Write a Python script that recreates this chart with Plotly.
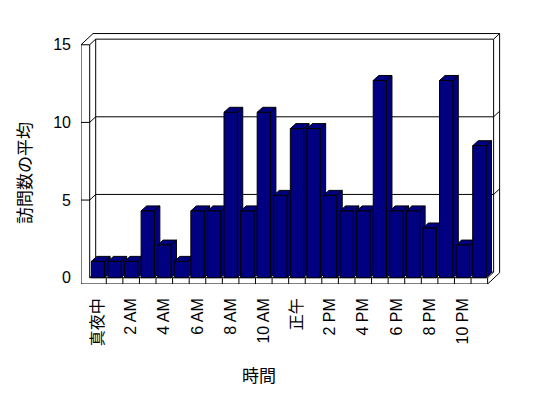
import plotly.graph_objects as go

# ---------------- data ----------------
hours = list(range(24))
values = [1.05, 1.05, 1.05, 4.3, 2.1, 1.05, 4.3, 4.3, 10.65, 4.3, 10.65, 5.3,
          9.6, 9.6, 5.3, 4.3, 4.3, 12.7, 4.3, 4.3, 3.2, 12.7, 2.1, 8.5]
tick_hours = [0, 2, 4, 6, 8, 10, 12, 14, 16, 18, 20, 22]
tick_labels = ["真夜中", "2 AM", "4 AM", "6 AM", "8 AM", "10 AM", "正午",
               "2 PM", "4 PM", "6 PM", "8 PM", "10 PM"]
y_ticks = [0, 5, 10, 15]
grid_values = [5, 10]
x_title = "時間"
y_title = "訪問数の平均"

# ---------------- geometry / style ----------------
W, H = 548, 398
L, R, T, B = 81, 47, 33, 114
PW, PH = W - L - R, H - T - B
SX = 16.58      # px per category
SY = 15.53      # px per unit
X0PX = 89.7     # pixel of x=-0.5
Y0PX = 277.7    # pixel of y=0
xlo = -0.5 - (X0PX - L) / SX
xhi = xlo + PW / SX
ylo = -((T + PH) - Y0PX) / SY
yhi = ylo + PH / SY

def ddx(px):
    return px / SX

def ddy(px):
    return px / SY

DX, DY = ddx(6), ddy(5.6)       # frame depth
BDX, BDY = ddx(5.5), ddy(5)     # bar depth
BAR_W = 0.8
NAVY = "#000080"
XR = len(hours) - 0.5
TOP = y_ticks[-1]

shapes = []

def line(x0, y0, x1, y1):
    shapes.append(dict(type="line", xref="x", yref="y", x0=x0, y0=y0, x1=x1, y1=y1,
                       line=dict(color="black", width=1), layer="below"))

# left wall
line(xlo, ylo, xlo, TOP)
line(-0.5, 0, -0.5, TOP)
line(xlo, TOP, -0.5, TOP)
line(xlo, TOP, xlo + 2 * DX, TOP + 2 * DY)
line(-0.5, TOP, -0.5 + DX, TOP + DY)
# back wall
line(xlo + 2 * DX, TOP + 2 * DY, XR + 2 * DX, TOP + 2 * DY)
line(-0.5 + DX, TOP + DY, XR + DX, TOP + DY)
line(-0.5 + DX, DY, -0.5 + DX, TOP + DY)
line(XR + DX, DY, XR + DX, TOP + DY)
line(XR + 2 * DX, ylo + 2 * DY, XR + 2 * DX, TOP + 2 * DY)
line(XR + DX, TOP + DY, XR + 2 * DX, TOP + 2 * DY)
# floor
line(-0.5, 0, XR, 0)
line(xlo, ylo, XR, ylo)
line(XR, ylo, XR, 0)
line(XR, ylo, XR + 2 * DX, ylo + 2 * DY)
line(XR, 0, XR + DX, DY)
line(-0.5, 0, -0.5 + DX, DY)
line(-0.5 + DX, DY, XR + DX, DY)
for h in hours[:-1]:
    line(h + 0.5, ylo, h + 0.5, 0)
# gridlines
for v in grid_values:
    line(xlo, v, -0.5, v)
    line(-0.5, v, -0.5 + DX, v + DY)
    line(-0.5 + DX, v + DY, XR + DX, v + DY)
    line(XR + DX, v + DY, XR + 2 * DX, v + 2 * DY)

# 3D bar top and side faces
for h, v in zip(hours, values):
    x0, x1 = h - BAR_W / 2, h + BAR_W / 2
    top = f"M {x0},{v} L {x0 + BDX},{v + BDY} L {x1 + BDX},{v + BDY} L {x1},{v} Z"
    side = f"M {x1},0 L {x1},{v} L {x1 + BDX},{v + BDY} L {x1 + BDX},{BDY} Z"
    for p in (side, top):
        shapes.append(dict(type="path", xref="x", yref="y", path=p, fillcolor=NAVY,
                           line=dict(color="black", width=1), layer="below"))

fig = go.Figure()
fig.add_trace(go.Bar(x=hours, y=values, width=BAR_W, base=0,
                     marker=dict(color=NAVY, line=dict(color="black", width=1)),
                     hoverinfo="skip"))

FONT = "Liberation Sans, Arial, Noto Sans CJK JP"

def paper_x(px):
    return (px - L) / PW

def paper_y(py):
    return 1 - (py - T) / PH

fig.update_layout(
    width=W, height=H,
    margin=dict(l=L, r=R, t=T, b=B, pad=0),
    paper_bgcolor="white", plot_bgcolor="white",
    showlegend=False,
    shapes=shapes,
    font=dict(family=FONT, color="black", size=15),
    xaxis=dict(range=[xlo, xhi], tickmode="array", tickvals=tick_hours, ticktext=tick_labels,
               tickangle=-90, showgrid=False, zeroline=False, showline=False, ticks="",
               ticklabelstandoff=10, tickfont=dict(size=16, family=FONT), fixedrange=True),
    yaxis=dict(range=[ylo, yhi], tickmode="array", tickvals=y_ticks,
               showgrid=False, zeroline=False, showline=False, ticks="",
               ticklabelstandoff=9, tickfont=dict(size=16, family=FONT), fixedrange=True),
    annotations=[
        dict(text=x_title, xref="paper", yref="paper", x=paper_x(259), y=paper_y(374),
             showarrow=False, xanchor="center", yanchor="middle",
             font=dict(size=17, family="Noto Sans CJK JP")),
        dict(text=y_title, xref="paper", yref="paper", x=paper_x(23), y=paper_y(173),
             showarrow=False, xanchor="center", yanchor="middle", textangle=-90,
             font=dict(size=17, family="Noto Sans CJK JP")),
    ],
)

fig.write_html("out.html")
